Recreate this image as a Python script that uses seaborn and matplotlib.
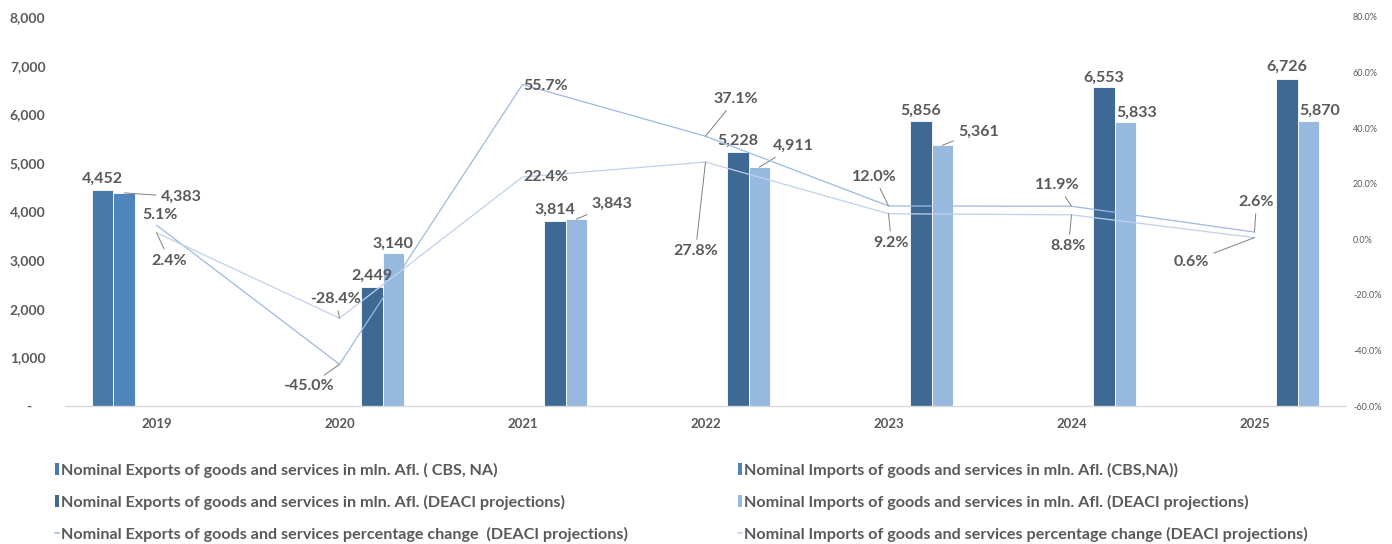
import numpy as np
import pandas as pd
import matplotlib
matplotlib.use('Agg')
import matplotlib.pyplot as plt
from matplotlib.patches import Patch
from matplotlib.lines import Line2D
from matplotlib.ticker import FuncFormatter, MultipleLocator
import seaborn as sns

# Data
years = ['2019', '2020', '2021', '2022', '2023', '2024', '2025']
exports_cbs = [4452, np.nan, np.nan, np.nan, np.nan, np.nan, np.nan]
imports_cbs = [4383, np.nan, np.nan, np.nan, np.nan, np.nan, np.nan]
exports_deaci = [np.nan, 2449, 3814, 5228, 5856, 6553, 6726]
imports_deaci = [np.nan, 3140, 3843, 4911, 5361, 5833, 5870]
exports_pct = [5.1, -45.0, 55.7, 37.1, 12.0, 11.9, 2.6]
imports_pct = [2.4, -28.4, 22.4, 27.8, 9.2, 8.8, 0.6]

s_exp_cbs = 'Nominal Exports of goods and services in mln. Afl. ( CBS, NA)'
s_imp_cbs = 'Nominal Imports of goods and services in mln. Afl. (CBS,NA))'
s_exp_deaci = 'Nominal Exports of goods and services in mln. Afl. (DEACI projections)'
s_imp_deaci = 'Nominal Imports of goods and services in mln. Afl. (DEACI projections)'
s_exp_pct = 'Nominal Exports of goods and services percentage change  (DEACI projections)'
s_imp_pct = 'Nominal Imports of goods and services percentage change (DEACI projections)'

# Excel reserves bar slots for the line series too
hue_order = [s_exp_cbs, s_imp_cbs, s_exp_pct, s_imp_pct, s_exp_deaci, s_imp_deaci]
palette = {
    s_exp_cbs: '#4779A9',
    s_imp_cbs: '#4E86BB',
    s_exp_pct: '#9DB9E2',
    s_imp_pct: '#BFD1EC',
    s_exp_deaci: '#3D6994',
    s_imp_deaci: '#97B8DF',
}

bar_series = {
    s_exp_cbs: exports_cbs,
    s_imp_cbs: imports_cbs,
    s_exp_deaci: exports_deaci,
    s_imp_deaci: imports_deaci,
}
rows = []
for name, vals in bar_series.items():
    for yr, v in zip(years, vals):
        if not np.isnan(v):
            rows.append({'year': yr, 'series': name, 'value': v})
df = pd.DataFrame(rows)

# label offsets in pixels (dx, dy) relative to bar top / line point, plus leader flag
bar_label_offsets = {
    s_exp_cbs: [(0, 11, False)] + [None] * 6,
    s_imp_cbs: [(57, -4, True)] + [None] * 6,
    s_exp_deaci: [None, (0, 11, False), (0, 11, False), (0, 11, False), (0, 10, False), (0, 10, False), (0, 12, False)],
    s_imp_deaci: [None, (0, 10, False), (36, 15, True), (34, 21, True), (36, 14, True), (11, 10, False), (11, 10, False)],
}
exp_pct_offsets = [(4, 10, False), (-31, -22, True), (23, -1, False), (30, 37, True),
                   (-14, 29, True), (-14, 21, True), (2, 30, True)]
imp_pct_offsets = [(13, -28, True), (-4, 19, True), (23, 0, False), (-10, -89, True),
                   (3, -29, True), (-3, -31, True), (-63, -24, True)]

sns.set_style('white')
plt.rcParams['font.family'] = ['Lato', 'DejaVu Sans']
text_color = '#595959'

fig = plt.figure(figsize=(13.92, 5.44), dpi=100)
ax = fig.add_axes([65 / 1392, 1 - 406 / 544, (1346 - 65) / 1392, (406 - 17) / 544])

bar_width = 0.705
sns.barplot(data=df, x='year', y='value', hue='series', order=years, hue_order=hue_order,
            palette=palette, width=bar_width, errorbar=None, legend=False,
            edgecolor='white', linewidth=0.6, saturation=1, ax=ax)

ax2 = ax.twinx()
xpos = np.arange(len(years))
sns.lineplot(x=xpos, y=exports_pct, color=palette[s_exp_pct], linewidth=0.9, ax=ax2)
sns.lineplot(x=xpos, y=imports_pct, color=palette[s_imp_pct], linewidth=0.9, ax=ax2)

ax.set_xlim(-0.5, len(years) - 0.5)
ax.set_ylim(0, 8000)
ax2.set_ylim(-60, 80)

# axes styling
for a in (ax, ax2):
    for side in ['top', 'left', 'right', 'bottom']:
        a.spines[side].set_visible(False)
ax.spines['bottom'].set_visible(True)
ax.spines['bottom'].set_color('#D9D9D9')
ax.spines['bottom'].set_linewidth(1)
ax.grid(False)
ax2.grid(False)

ax.yaxis.set_major_locator(MultipleLocator(1000))
ax.yaxis.set_major_formatter(FuncFormatter(lambda v, p: '-    ' if v == 0 else f'{v:,.0f}'))
ax.tick_params(axis='y', length=0, pad=14, labelsize=10, labelcolor=text_color)
ax.tick_params(axis='x', length=0, pad=9, labelsize=9.5, labelcolor=text_color)
for t in ax.get_yticklabels() + ax.get_xticklabels():
    t.set_fontweight('bold')
ax.set_xlabel('')
ax.set_ylabel('')

ax2.yaxis.set_major_locator(MultipleLocator(20))
ax2.yaxis.set_major_formatter(FuncFormatter(lambda v, p: f'{v:.1f}%'))
ax2.tick_params(axis='y', length=0, pad=5, labelsize=6.5, labelcolor=text_color)
ax2.set_ylabel('')

# bar labels
slot_w = bar_width / len(hue_order)
for name, vals in bar_series.items():
    k = hue_order.index(name)
    for i, v in enumerate(vals):
        off = bar_label_offsets[name][i]
        if np.isnan(v) or off is None:
            continue
        xc = i + (k - (len(hue_order) - 1) / 2) * slot_w
        dx, dy, leader = off
        ax.annotate(f'{v:,.0f}', xy=(xc, v), xytext=(dx, dy), textcoords='offset pixels',
                    ha='center', va='center', fontsize=11.5, fontweight='bold', color=text_color,
                    arrowprops=dict(arrowstyle='-', color='#7F7F7F', lw=0.7, shrinkA=1, shrinkB=0) if leader else None)

# line labels
for vals, offs in [(exports_pct, exp_pct_offsets), (imports_pct, imp_pct_offsets)]:
    for i, v in enumerate(vals):
        dx, dy, leader = offs[i]
        ax2.annotate(f'{v:.1f}%', xy=(i, v), xytext=(dx, dy), textcoords='offset pixels',
                     ha='center', va='center', fontsize=11.5, fontweight='bold', color=text_color,
                     arrowprops=dict(arrowstyle='-', color='#7F7F7F', lw=0.7, shrinkA=1, shrinkB=0) if leader else None)

# legend in two columns
def handle(name, kind):
    if kind == 'bar':
        return Patch(facecolor=palette[name], edgecolor='none')
    return Line2D([0], [0], color=palette[name], lw=1.2)

left_items = [(s_exp_cbs, 'bar'), (s_exp_deaci, 'bar'), (s_exp_pct, 'line')]
right_items = [(s_imp_cbs, 'bar'), (s_imp_deaci, 'bar'), (s_imp_pct, 'line')]
for items, x0 in [(left_items, 40 / 1392), (right_items, 723 / 1392)]:
    leg = fig.legend([handle(n, k) for n, k in items], [n for n, _ in items],
                     loc='upper left', bbox_to_anchor=(x0, 1 - 448 / 544), frameon=False,
                     handlelength=0.3, handleheight=0.7, handletextpad=0.12, labelspacing=1.05,
                     prop={'size': 11.6, 'weight': 'bold'})
    for t in leg.get_texts():
        t.set_color(text_color)

fig.savefig('out.png', dpi=100)
